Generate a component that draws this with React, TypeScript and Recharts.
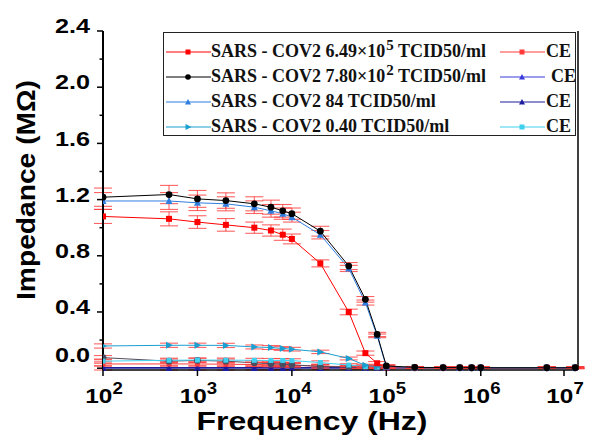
import React from "react"
import { LineChart, Line, XAxis, YAxis, ErrorBar } from "recharts"

// ── Data ───────────────────────────────────────────────────────────────────

const FREQ = [100, 500, 1000, 2000, 4000, 6000, 8000, 1e4, 2e4, 4e4, 6e4, 8e4, 1e5, 2e5, 4e5, 6e5, 8e5, 1e6, 5e6, 1e7]

const V_649E5 = [1.08, 1.063, 1.04, 1.02, 1.0, 0.98, 0.95, 0.92, 0.746, 0.4, 0.107, 0.035, 0.006, 0.003, 0.002, 0.002, 0.002, 0.002, 0.002, 0.002]
const V_780E2 = [1.217, 1.236, 1.205, 1.193, 1.17, 1.146, 1.12, 1.1, 0.975, 0.727, 0.49, 0.24, 0.016, 0.006, 0.004, 0.004, 0.003, 0.003, 0.003, 0.003]
const V_84 = [1.19, 1.19, 1.177, 1.17, 1.146, 1.12, 1.1, 1.075, 0.95, 0.71, 0.467, 0.23, 0.01, 0.005, 0.004, 0.003, 0.003, 0.003, 0.003, 0.003]
const V_040 = [0.158, 0.163, 0.163, 0.162, 0.151, 0.147, 0.14, 0.135, 0.116, 0.069, 0.02, 0.012, 0.006, 0.004, 0.003, 0.003, 0.003, 0.003, 0.003, 0.003]

const CE_649E5 = [0.03, 0.03, 0.03, 0.028, 0.026, 0.024, 0.022, 0.02, 0.015, 0.01, 0.008, 0.005, 0.003, 0.002, 0.002, 0.002, 0.002, 0.002, 0.002, 0.002]
const CE_780E2 = [0.075, 0.05, 0.055, 0.05, 0.038, 0.032, 0.028, 0.024, 0.012, 0.008, 0.006, 0.005, 0.004, 0.003, 0.003, 0.003, 0.003, 0.003, 0.003, 0.003]
const CE_84 = [0.002, 0.002, 0.002, 0.002, 0.002, 0.002, 0.002, 0.002, 0.002, 0.002, 0.002, 0.002, 0.002, 0.002, 0.002, 0.002, 0.002, 0.002, 0.002, 0.002]
const CE_040 = [0.05, 0.056, 0.058, 0.057, 0.056, 0.055, 0.055, 0.054, 0.04, 0.022, 0.012, 0.008, 0.005, 0.003, 0.003, 0.003, 0.003, 0.003, 0.003, 0.003]

const ERR_649E5 = [0.05, 0.05, 0.045, 0.045, 0.04, 0.04, 0.04, 0.035, 0.025, 0.02, 0.015, 0.012, 0.01, 0.006, 0.005, 0.005, 0.005, 0.005, 0.005, 0.005]
const ERR_780E2 = [0.065, 0.065, 0.06, 0.055, 0.05, 0.05, 0.045, 0.04, 0.035, 0.025, 0.02, 0.015, 0.01, 0.006, 0.005, 0.005, 0.005, 0.005, 0.005, 0.005]
const ERR_84 = [0.06, 0.06, 0.055, 0.05, 0.045, 0.045, 0.04, 0.035, 0.03, 0.022, 0.018, 0.013, 0.01, 0.006, 0.005, 0.005, 0.005, 0.005, 0.005, 0.005]
const ERR_LOW = [0.015, 0.015, 0.015, 0.015, 0.014, 0.014, 0.013, 0.013, 0.012, 0.01, 0.008, 0.007, 0.006, 0.005, 0.005, 0.005, 0.005, 0.005, 0.005, 0.005]

const X_TICKS = [100, 1e3, 1e4, 1e5, 1e6, 1e7]
const Y_TICKS = [0, 0.2, 0.4, 0.6, 0.8, 1.0, 1.2, 1.4, 1.6, 1.8, 2.0, 2.2, 2.4]

const data = FREQ.map((f, i) => ({
  f,
  s1: V_649E5[i], e1: ERR_649E5[i],
  s2: V_780E2[i], e2: ERR_780E2[i],
  s3: V_84[i], e3: ERR_84[i],
  s4: V_040[i], e4: ERR_LOW[i],
  c1: CE_649E5[i], c2: CE_780E2[i], c3: CE_84[i], c4: CE_040[i], ec: ERR_LOW[i],
}))

// ── Style ─────────────────────────────────────────────────────────────────

const SANS = "'Liberation Sans', Arial, sans-serif"
const SERIF = "'Liberation Serif', 'Times New Roman', serif"
const RED = "#ff0000"
const BLACK = "#000000"
const BLUE = "#2f7de1"
const TEAL = "#1a9fd0"
const CE_RED = "#ff3a3a"
const CE_GREY = "#4c4c60"
const CE_BLUE = "#3b3bdd"
const CE_NAVY = "#1c1c9c"
const CE_CYAN = "#3fd0f0"
const ERR = "#ff3c3c"

// ── Markers ───────────────────────────────────────────────────────────────

const square = (color: string, s = 3) => (p: any) =>
  <rect key={p.index} x={p.cx - s} y={p.cy - s} width={s * 2} height={s * 2} fill={color} />
const circle = (color: string) => (p: any) =>
  <circle key={p.index} cx={p.cx} cy={p.cy} r={3.4} fill={color} />
const triUp = (color: string) => (p: any) =>
  <polygon key={p.index} points={`${p.cx},${p.cy - 4} ${p.cx - 3.5},${p.cy + 3} ${p.cx + 3.5},${p.cy + 3}`} fill={color} />
const triRight = (color: string) => (p: any) =>
  <polygon key={p.index} points={`${p.cx + 4},${p.cy} ${p.cx - 3},${p.cy - 3.5} ${p.cx - 3},${p.cy + 3.5}`} fill={color} />

// ── Axis ticks ────────────────────────────────────────────────────────────

function LeftTick({ x, y, payload }: any) {
  const v = payload.value
  const major = Math.round(v * 10) % 4 === 0
  // the source nudges its tick labels a little above the tick marks
  const dy = v === 0 ? -13 : -5
  return (
    <g>
      <line x1={x} x2={x - (major ? 6 : 3.5)} y1={y} y2={y} stroke="#000" strokeWidth={1.5} />
      {major && (
        <text transform={`translate(${x - 13},${y + dy}) scale(1.2,1)`} textAnchor="end" dominantBaseline="central"
          fontFamily={SANS} fontWeight="bold" fontSize={21} fill="#000">
          {v.toFixed(1)}
        </text>
      )}
    </g>
  )
}

function RightTick({ x, y, payload }: any) {
  const major = Math.round(payload.value * 10) % 4 === 0
  return <line x1={x} x2={x - (major ? 6 : 3.5)} y1={y} y2={y} stroke="#000" strokeWidth={1.5} />
}

function BottomTick({ x, y, payload }: any) {
  const exp = Math.round(Math.log10(payload.value))
  return (
    <g>
      <line x1={x} x2={x} y1={y} y2={y + 6} stroke="#000" strokeWidth={1.5} />
      <text transform={`translate(${x + 1},${y + 33}) scale(1.16,1)`} textAnchor="middle"
        fontFamily={SANS} fontWeight="bold" fontSize={21} fill="#000">
        <tspan>10</tspan>
        <tspan dy={-9} fontSize={16}>{exp}</tspan>
      </text>
    </g>
  )
}

// ── Legend ────────────────────────────────────────────────────────────────

function Sample({ color, marker }: { color: string; marker: string }) {
  const cx = 22, cy = 5
  let m: React.ReactNode = null
  if (marker === "square") m = <rect x={cx - 2.5} y={cy - 2.5} width={5} height={5} fill={color} />
  if (marker === "circle") m = <circle cx={cx} cy={cy} r={2.8} fill={color} />
  if (marker === "up") m = <polygon points={`${cx},${cy - 3} ${cx - 3},${cy + 2.5} ${cx + 3},${cy + 2.5}`} fill={color} />
  if (marker === "right") m = <polygon points={`${cx + 3.5},${cy} ${cx - 2.5},${cy - 3} ${cx - 2.5},${cy + 3}`} fill={color} />
  return (
    <svg width={45} height={10} style={{ display: "block" }}>
      <line x1={0} x2={45} y1={cy} y2={cy} stroke={color} strokeWidth={1.2} />
      {m}
    </svg>
  )
}

const SUP = { fontSize: 15, lineHeight: 0, marginLeft: 1 }

const LEGEND_ROWS = [
  { color: RED, marker: "square", conc: <>6.49×10<sup style={SUP}>5</sup></>, ce: CE_RED, ceMarker: "square", ceGap: 0 },
  { color: BLACK, marker: "circle", conc: <>7.80×10<sup style={SUP}>2</sup></>, ce: CE_BLUE, ceMarker: "up", ceGap: 5 },
  { color: BLUE, marker: "up", conc: <>84</>, ce: CE_NAVY, ceMarker: "up", ceGap: 0 },
  { color: TEAL, marker: "right", conc: <>0.40</>, ce: CE_CYAN, ceMarker: "square", ceGap: 0 },
]

function LegendBox() {
  return (
    <div style={{
      position: "absolute", left: 163, top: 32, width: 413, height: 104,
      border: "1px solid #222", background: "#fff", boxSizing: "border-box",
      fontFamily: SERIF, fontWeight: "bold", fontSize: 18, color: "#111",
    }}>
      {LEGEND_ROWS.map((r, i) => (
        <div key={i} style={{ position: "absolute", top: 8 + i * 25, left: 0, width: "100%", height: 20 }}>
          <div style={{ position: "absolute", left: 2, top: 6 }}><Sample color={r.color} marker={r.marker} /></div>
          <div style={{ position: "absolute", left: 47, top: 0, whiteSpace: "nowrap", lineHeight: "20px" }}>
            SARS - COV2 {r.conc} TCID50/ml
          </div>
          <div style={{ position: "absolute", left: 336, top: 6 }}><Sample color={r.ce} marker={r.ceMarker} /></div>
          <div style={{ position: "absolute", left: 382 + r.ceGap, top: 0, lineHeight: "20px" }}>CE</div>
        </div>
      ))}
    </div>
  )
}

// ── Chart ─────────────────────────────────────────────────────────────────

export default function App() {
  const errBar = (key: string) => (
    <ErrorBar dataKey={key} width={9} stroke={ERR} strokeOpacity={0.8} strokeWidth={1.1} />
  )
  return (
    <div style={{ position: "absolute", left: 0, top: 0, width: 596, height: 442, background: "#fff" }}>
      <LineChart width={596} height={442} data={data} margin={{ top: 31, right: 0, left: 0, bottom: 0 }}>
        <XAxis
          dataKey="f" type="number" scale="log" domain={[100, 1.07e7]} allowDataOverflow
          ticks={X_TICKS} tick={<BottomTick />} tickLine={false} tickSize={0} tickMargin={0}
          height={72} axisLine={{ stroke: "#000", strokeWidth: 1.5 }}
          label={{
            content: () => (
              <text x={312} y={430} textAnchor="middle" fontFamily={SANS} fontWeight="bold" fontSize={26}
                textLength={231} lengthAdjust="spacingAndGlyphs" fill="#000">
                Frequency (Hz)
              </text>
            ),
          }}
        />
        <YAxis
          yAxisId="l" type="number" domain={[0, 2.4]} ticks={Y_TICKS} interval={0}
          tick={<LeftTick />} tickLine={false} tickSize={0} tickMargin={0} width={103}
          axisLine={{ stroke: "#000", strokeWidth: 2 }}
          label={{
            content: () => (
              <text transform="translate(26,190) rotate(-90)" textAnchor="middle" dominantBaseline="central"
                fontFamily={SANS} fontWeight="bold" fontSize={26} textLength={220} lengthAdjust="spacingAndGlyphs" fill="#000">
                Impedance (MΩ)
              </text>
            ),
          }}
        />
        <YAxis
          yAxisId="r" orientation="right" type="number" domain={[0, 2.4]} ticks={Y_TICKS} interval={0}
          tick={<RightTick />} tickLine={false} tickSize={0} tickMargin={0} width={18}
          axisLine={{ stroke: "#000", strokeWidth: 1.5 }}
        />

        <Line yAxisId="l" dataKey="c3" stroke={CE_NAVY} strokeWidth={1.8} dot={triUp(CE_NAVY)} isAnimationActive={false}>{errBar("ec")}</Line>
        <Line yAxisId="l" dataKey="c1" stroke={CE_RED} strokeWidth={1} dot={square(CE_RED, 2.5)} isAnimationActive={false}>{errBar("ec")}</Line>
        <Line yAxisId="l" dataKey="c2" stroke={CE_GREY} strokeWidth={1} dot={circle(CE_GREY)} isAnimationActive={false}>{errBar("ec")}</Line>
        <Line yAxisId="l" dataKey="c4" stroke={CE_CYAN} strokeWidth={1} dot={square(CE_CYAN, 2.5)} isAnimationActive={false}>{errBar("ec")}</Line>
        <Line yAxisId="l" dataKey="s4" stroke={TEAL} strokeWidth={1} dot={triRight(TEAL)} isAnimationActive={false}>{errBar("e4")}</Line>
        <Line yAxisId="l" dataKey="s1" stroke={RED} strokeWidth={1} dot={square(RED)} isAnimationActive={false}>{errBar("e1")}</Line>
        <Line yAxisId="l" dataKey="s3" stroke={BLUE} strokeWidth={1} dot={triUp(BLUE)} isAnimationActive={false}>{errBar("e3")}</Line>
        <Line yAxisId="l" dataKey="s2" stroke={BLACK} strokeWidth={1} dot={circle(BLACK)} isAnimationActive={false}>{errBar("e2")}</Line>
      </LineChart>
      <LegendBox />
    </div>
  )
}
